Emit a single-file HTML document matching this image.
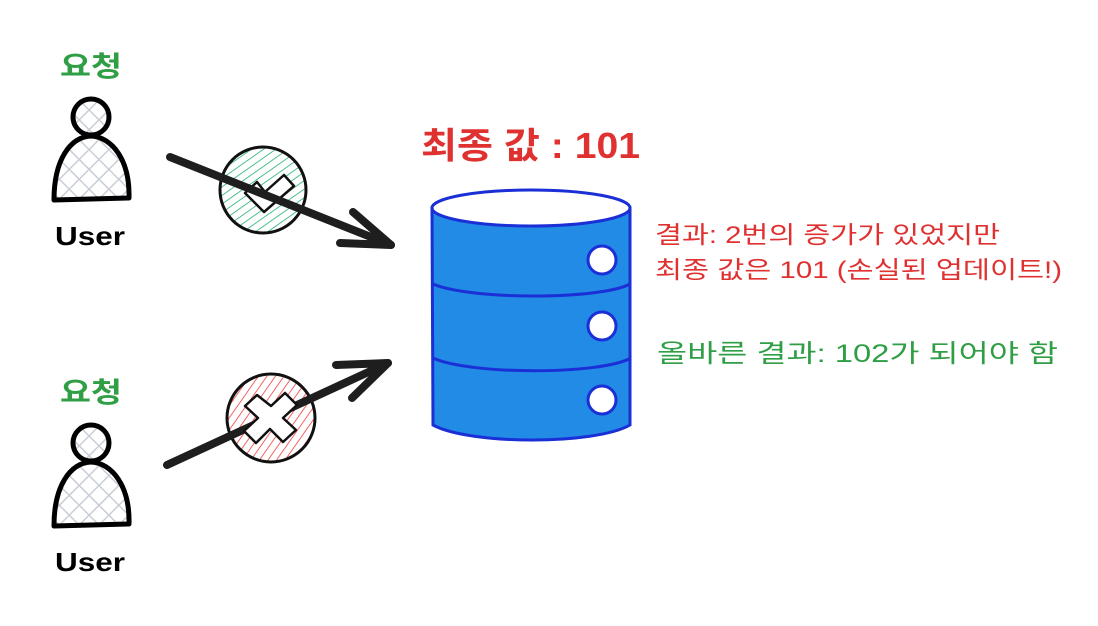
<!DOCTYPE html>
<html><head><meta charset="utf-8"><style>
body{margin:0;background:#fff;width:1098px;height:626px;overflow:hidden}
svg{display:block}
text{font-family:"Liberation Sans","Noto Sans CJK KR",sans-serif}
</style></head><body>
<svg width="1098" height="626" viewBox="0 0 1098 626">
<defs>
<pattern id="hatch" width="14" height="14" patternUnits="userSpaceOnUse" patternTransform="rotate(45)">
<line x1="0" y1="0" x2="0" y2="14" stroke="#c9ced6" stroke-width="3"/>
<line x1="0" y1="0" x2="14" y2="0" stroke="#c9ced6" stroke-width="3"/>
</pattern>
<pattern id="gh" width="7" height="7" patternUnits="userSpaceOnUse" patternTransform="rotate(-35)">
<line x1="0" y1="0" x2="7" y2="0" stroke="#20b070" stroke-width="1.6"/>
</pattern>
<pattern id="rh" width="7" height="7" patternUnits="userSpaceOnUse" patternTransform="rotate(-55)">
<line x1="0" y1="0" x2="7" y2="0" stroke="#f03e3e" stroke-width="1.6"/>
</pattern>
</defs>
<g id="u1">
<text x="60" y="76" font-size="28" font-weight="bold" fill="#2f9e44" textLength="62" lengthAdjust="spacingAndGlyphs">요청</text>
<circle cx="91" cy="117" r="18" fill="url(#hatch)" stroke="#000" stroke-width="5"/>
<path d="M54,200 C54,160 70,137 91,136 C112,137 130,160 129,198 Z" fill="url(#hatch)" stroke="#000" stroke-width="5" stroke-linejoin="round"/>
<text x="55" y="245" font-size="26" font-weight="bold" fill="#000" textLength="70" lengthAdjust="spacingAndGlyphs">User</text>
</g>
<g transform="translate(0,326)">
<text x="60" y="76" font-size="28" font-weight="bold" fill="#2f9e44" textLength="62" lengthAdjust="spacingAndGlyphs">요청</text>
<circle cx="91" cy="117" r="18" fill="url(#hatch)" stroke="#000" stroke-width="5"/>
<path d="M54,200 C54,160 70,137 91,136 C112,137 130,160 129,198 Z" fill="url(#hatch)" stroke="#000" stroke-width="5" stroke-linejoin="round"/>
<text x="55" y="245" font-size="26" font-weight="bold" fill="#000" textLength="70" lengthAdjust="spacingAndGlyphs">User</text>
</g>
<!-- arrow 1 -->
<circle cx="263" cy="190" r="43" fill="url(#gh)" stroke="#111" stroke-width="3"/>
<path d="M245,193 L257,182 L265,192 L284,175 L294,186 L264,212 Z" fill="#fff" stroke="#111" stroke-width="2.5" stroke-linejoin="round"/>
<line x1="170" y1="157" x2="391" y2="245" stroke="#1e1e1e" stroke-width="8" stroke-linecap="round"/>
<polyline points="353,212 391,245 340,243" fill="none" stroke="#1e1e1e" stroke-width="8" stroke-linecap="round" stroke-linejoin="round"/>
<!-- arrow 2 -->
<circle cx="271" cy="418" r="44" fill="url(#rh)" stroke="#111" stroke-width="3"/>
<line x1="167" y1="465" x2="388" y2="363" stroke="#1e1e1e" stroke-width="8" stroke-linecap="round"/>
<polyline points="336,365 388,363 352,398" fill="none" stroke="#1e1e1e" stroke-width="8" stroke-linecap="round" stroke-linejoin="round"/>
<path d="M257,395 L271,406 L285,393 L297,405 L283,418 L296,430 L283,442 L270,429 L256,443 L244,431 L258,418 L245,406 Z" fill="#fff" stroke="#111" stroke-width="2.5" stroke-linejoin="round"/>
<!-- DB -->
<path d="M432,208 L433,425 C470,445 595,445 630,425 L630,208 Z" fill="#228be6" stroke="#1b2fd6" stroke-width="3"/>
<ellipse cx="531" cy="208" rx="99" ry="18" fill="#fff" stroke="#1b2fd6" stroke-width="3"/>
<path d="M433,284 C470,300 600,300 630,284" fill="none" stroke="#1b2fd6" stroke-width="3"/>
<path d="M433,358 C470,375 600,375 631,358" fill="none" stroke="#1b2fd6" stroke-width="3"/>
<circle cx="602" cy="260" r="14" fill="#fff" stroke="#1b2fd6" stroke-width="3"/>
<circle cx="602" cy="326" r="14" fill="#fff" stroke="#1b2fd6" stroke-width="3"/>
<circle cx="602" cy="400" r="14" fill="#fff" stroke="#1b2fd6" stroke-width="3"/>
<text x="421" y="158" font-size="36" font-weight="bold" fill="#e03131" textLength="219" lengthAdjust="spacingAndGlyphs">최종 값 : 101</text>
<text x="655" y="243" font-size="24" fill="#e03131" textLength="345" lengthAdjust="spacingAndGlyphs">결과: 2번의 증가가 있었지만</text>
<text x="655" y="278" font-size="24" fill="#e03131" textLength="407" lengthAdjust="spacingAndGlyphs">최종 값은 101 (손실된 업데이트!)</text>
<text x="657" y="362" font-size="25" fill="#2f9e44" textLength="401" lengthAdjust="spacingAndGlyphs">올바른 결과: 102가 되어야 함</text>
</svg>
</body></html>
